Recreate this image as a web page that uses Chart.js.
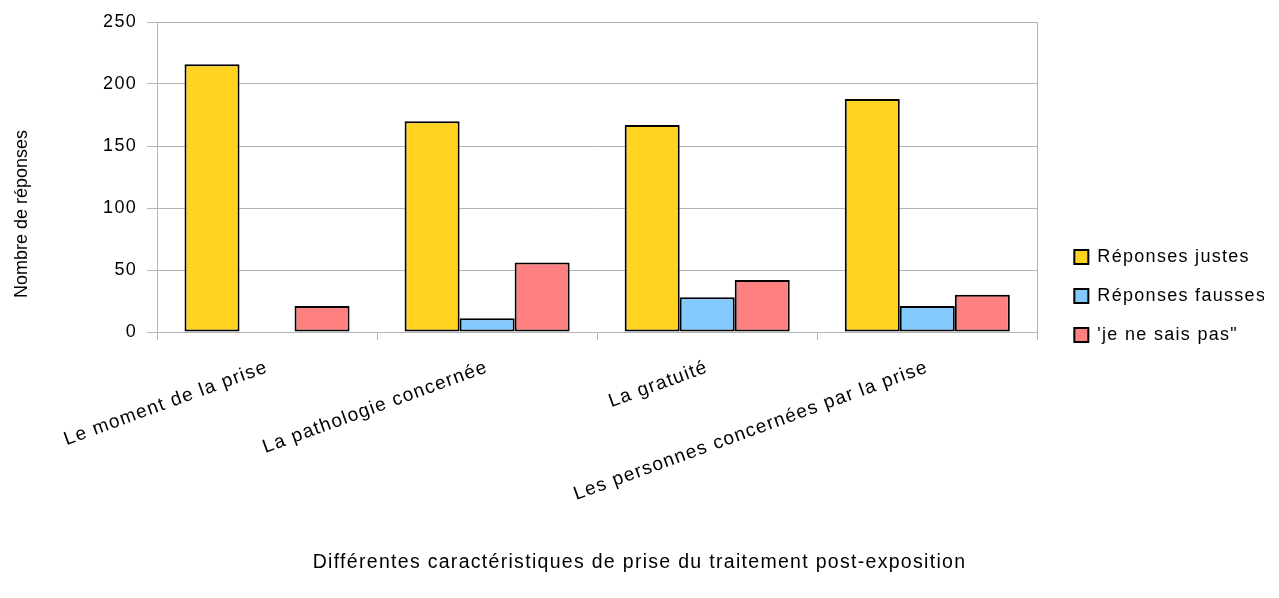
<!DOCTYPE html>
<html>
<head>
<meta charset="utf-8">
<script src="https://cdn.jsdelivr.net/npm/chart.js@4.4.1/dist/chart.umd.min.js"></script>
<style>
  html, body { margin: 0; padding: 0; background: #fff; }
  #wrap { width: 1279px; height: 598px; }
</style>
</head>
<body>
<div id="wrap"><canvas id="chart"></canvas></div>
<script>
// values
const categories = [
    "Le moment de la prise",
    "La pathologie concernée",
    "La gratuité",
    "Les personnes concernées par la prise",
];
const justes = [216, 170, 167, 188];
const fausses = [0, 11, 28, 21];
const nsp = [21, 56, 42, 30];
const yTicks = [0, 50, 100, 150, 200, 250];

const X_TITLE = 'Différentes caractéristiques de prise du traitement post-exposition';
const Y_TITLE = 'Nombre de réponses';

const FONT = "'Liberation Sans', Arial, sans-serif";
const GRID = '#b3b3b3';
const SPACING = '1.3px';

// wider letter spacing, like the source rendering
const spacingPlugin = {
    id: 'spacing',
    beforeUpdate(chart) { chart.ctx.letterSpacing = SPACING; },
    beforeDraw(chart) { chart.ctx.letterSpacing = SPACING; },
};

// axis titles: the original centres them on the whole picture, not the plot
const titlesPlugin = {
    id: 'axisTitles',
    afterDraw(chart) {
        const ctx = chart.ctx;
        const a = chart.chartArea;
        ctx.save();
        ctx.fillStyle = '#000';
        ctx.textAlign = 'center';
        ctx.textBaseline = 'middle';

        ctx.letterSpacing = SPACING;
        ctx.font = '19.5px ' + FONT;
        ctx.fillText(X_TITLE, chart.width / 2, chart.height - 35);

        ctx.letterSpacing = '0px';
        ctx.translate(22, (a.top + a.bottom) / 2 + 37);
        ctx.rotate(-Math.PI / 2);
        ctx.font = '18px ' + FONT;
        ctx.fillText(Y_TITLE, 0, 0);
        ctx.restore();
    },
};

Chart.defaults.font.family = FONT;
Chart.defaults.font.size = 18;
Chart.defaults.color = '#000';

new Chart(document.getElementById('chart'), {
    type: 'bar',
    data: {
        labels: categories,
        datasets: [
            { label: 'Réponses justes', data: justes, backgroundColor: '#ffd320' },
            { label: 'Réponses fausses', data: fausses, backgroundColor: '#83caff' },
            { label: '\'je ne sais pas"', data: nsp, backgroundColor: '#ff8080' },
        ].map(d => Object.assign(d, {
            yAxisID: 'y',
            borderColor: '#000',
            borderWidth: 2,
            borderSkipped: false,
            categoryPercentage: 0.75,
            barPercentage: 1,
        })),
    },
    options: {
        responsive: true,
        maintainAspectRatio: false,
        animation: false,
        layout: { padding: { top: 22, right: 15, bottom: 28, left: 0 } },
        scales: {
            x: {
                grid: { drawOnChartArea: false, drawTicks: true, tickLength: 8, color: GRID, offset: true },
                border: { color: GRID },
                ticks: { autoSkip: false, minRotation: 20, maxRotation: 20, padding: 16, font: { size: 19 } },
                afterFit(s) { s.height = 238; },
            },
            y: {
                min: 0,
                max: 250,
                afterBuildTicks(s) { s.ticks = yTicks.map(v => ({ value: v })); },
                grid: { color: GRID, tickLength: 10 },
                border: { color: GRID },
                ticks: { padding: 10, font: { size: 18 } },
                afterFit(s) { s.width = 157; },
            },
            y2: {
                position: 'right',
                grid: { display: false },
                border: { display: true, color: GRID },
                ticks: { display: false },
                afterFit(s) { s.width = 16; },
            },
        },
        plugins: {
            legend: {
                position: 'right',
                align: 'center',
                labels: {
                    boxWidth: 14,
                    boxHeight: 14,
                    padding: 21,
                    color: '#000',
                    font: { size: 18 },
                },
            },
            tooltip: { enabled: false },
        },
    },
    plugins: [spacingPlugin, titlesPlugin],
});
</script>
</body>
</html>
